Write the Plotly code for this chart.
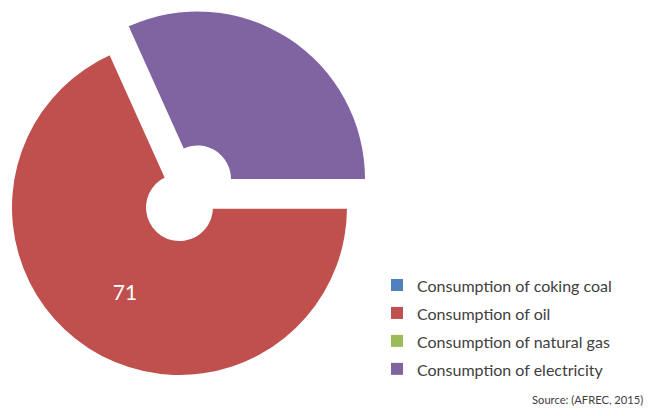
import plotly.graph_objects as go

labels = ["Consumption of coking coal", "Consumption of oil",
          "Consumption of natural gas", "Consumption of electricity"]
values = [0, 71, 0, 33]
colors = ["#4F81BD", "#C0504D", "#9BBB59", "#8064A2"]
slice_text = ["", "71", "", ""]
source = "Source: (AFREC, 2015)"

OFF = 8                                   # default page (body) margin
W, H = 653 - 2 * OFF, 416 - 2 * OFF       # figure size (no page overflow)
FONT = "Lato"

def dom(cx, cy, r):
    # cx, cy, r given in window pixels
    cx -= OFF
    cy -= OFF
    return dict(x=[(cx - r) / W, (cx + r) / W],
                y=[(H - cy - r) / H, (H - cy + r) / H])

# legend text shown at 16px, row pitch from a larger legend font
legend_labels = [f"<span style='font-size:16px'>{l}</span>" for l in labels]

common = dict(labels=legend_labels, values=values, sort=False, direction="clockwise",
              rotation=90, hole=0.2, hovertemplate=[l + ": %{value}<extra></extra>" for l in labels])

fig = go.Figure()
# main ring (gives the legend)
fig.add_trace(go.Pie(**common, domain=dom(179.5, 207.5, 167.5),
                     marker=dict(colors=colors, line=dict(width=0)),
                     text=slice_text, textinfo="text", textposition="inside",
                     insidetextorientation="horizontal",
                     textfont=dict(color="white", size=21, family=FONT),
                     showlegend=True))
# blank out the unpulled electricity slice
erase = ["rgba(0,0,0,0)"] * 3 + ["white"]
fig.add_trace(go.Pie(**common, domain=dom(179.5, 207.5, 167.5),
                     marker=dict(colors=erase, line=dict(width=[0, 0, 0, 2.5], color="white")),
                     textinfo="none", showlegend=False, hoverinfo="skip"))
# pulled-out electricity slice
pulled = ["rgba(0,0,0,0)"] * 3 + [colors[3]]
fig.add_trace(go.Pie(**common, domain=dom(197.5, 179, 167.5),
                     marker=dict(colors=pulled, line=dict(width=0)),
                     textinfo="none", showlegend=False))

fig.update_layout(
    width=W, height=H,
    margin=dict(l=0, r=0, t=0, b=0),
    paper_bgcolor="white", plot_bgcolor="white",
    font=dict(family=FONT, color="#333333"),
    legend=dict(x=369 / W, y=(H - 258) / H, xanchor="left", yanchor="top",
                font=dict(size=19.2, color="#404040", family=FONT),
                bgcolor="rgba(0,0,0,0)", traceorder="normal"),
    annotations=[dict(text=source, x=1.0, y=0.0,
                      xref="paper", yref="paper",
                      xanchor="right", yanchor="bottom", showarrow=False,
                      font=dict(size=11.2, color="#404040", family=FONT))],
)

fig.write_html("out.html")
